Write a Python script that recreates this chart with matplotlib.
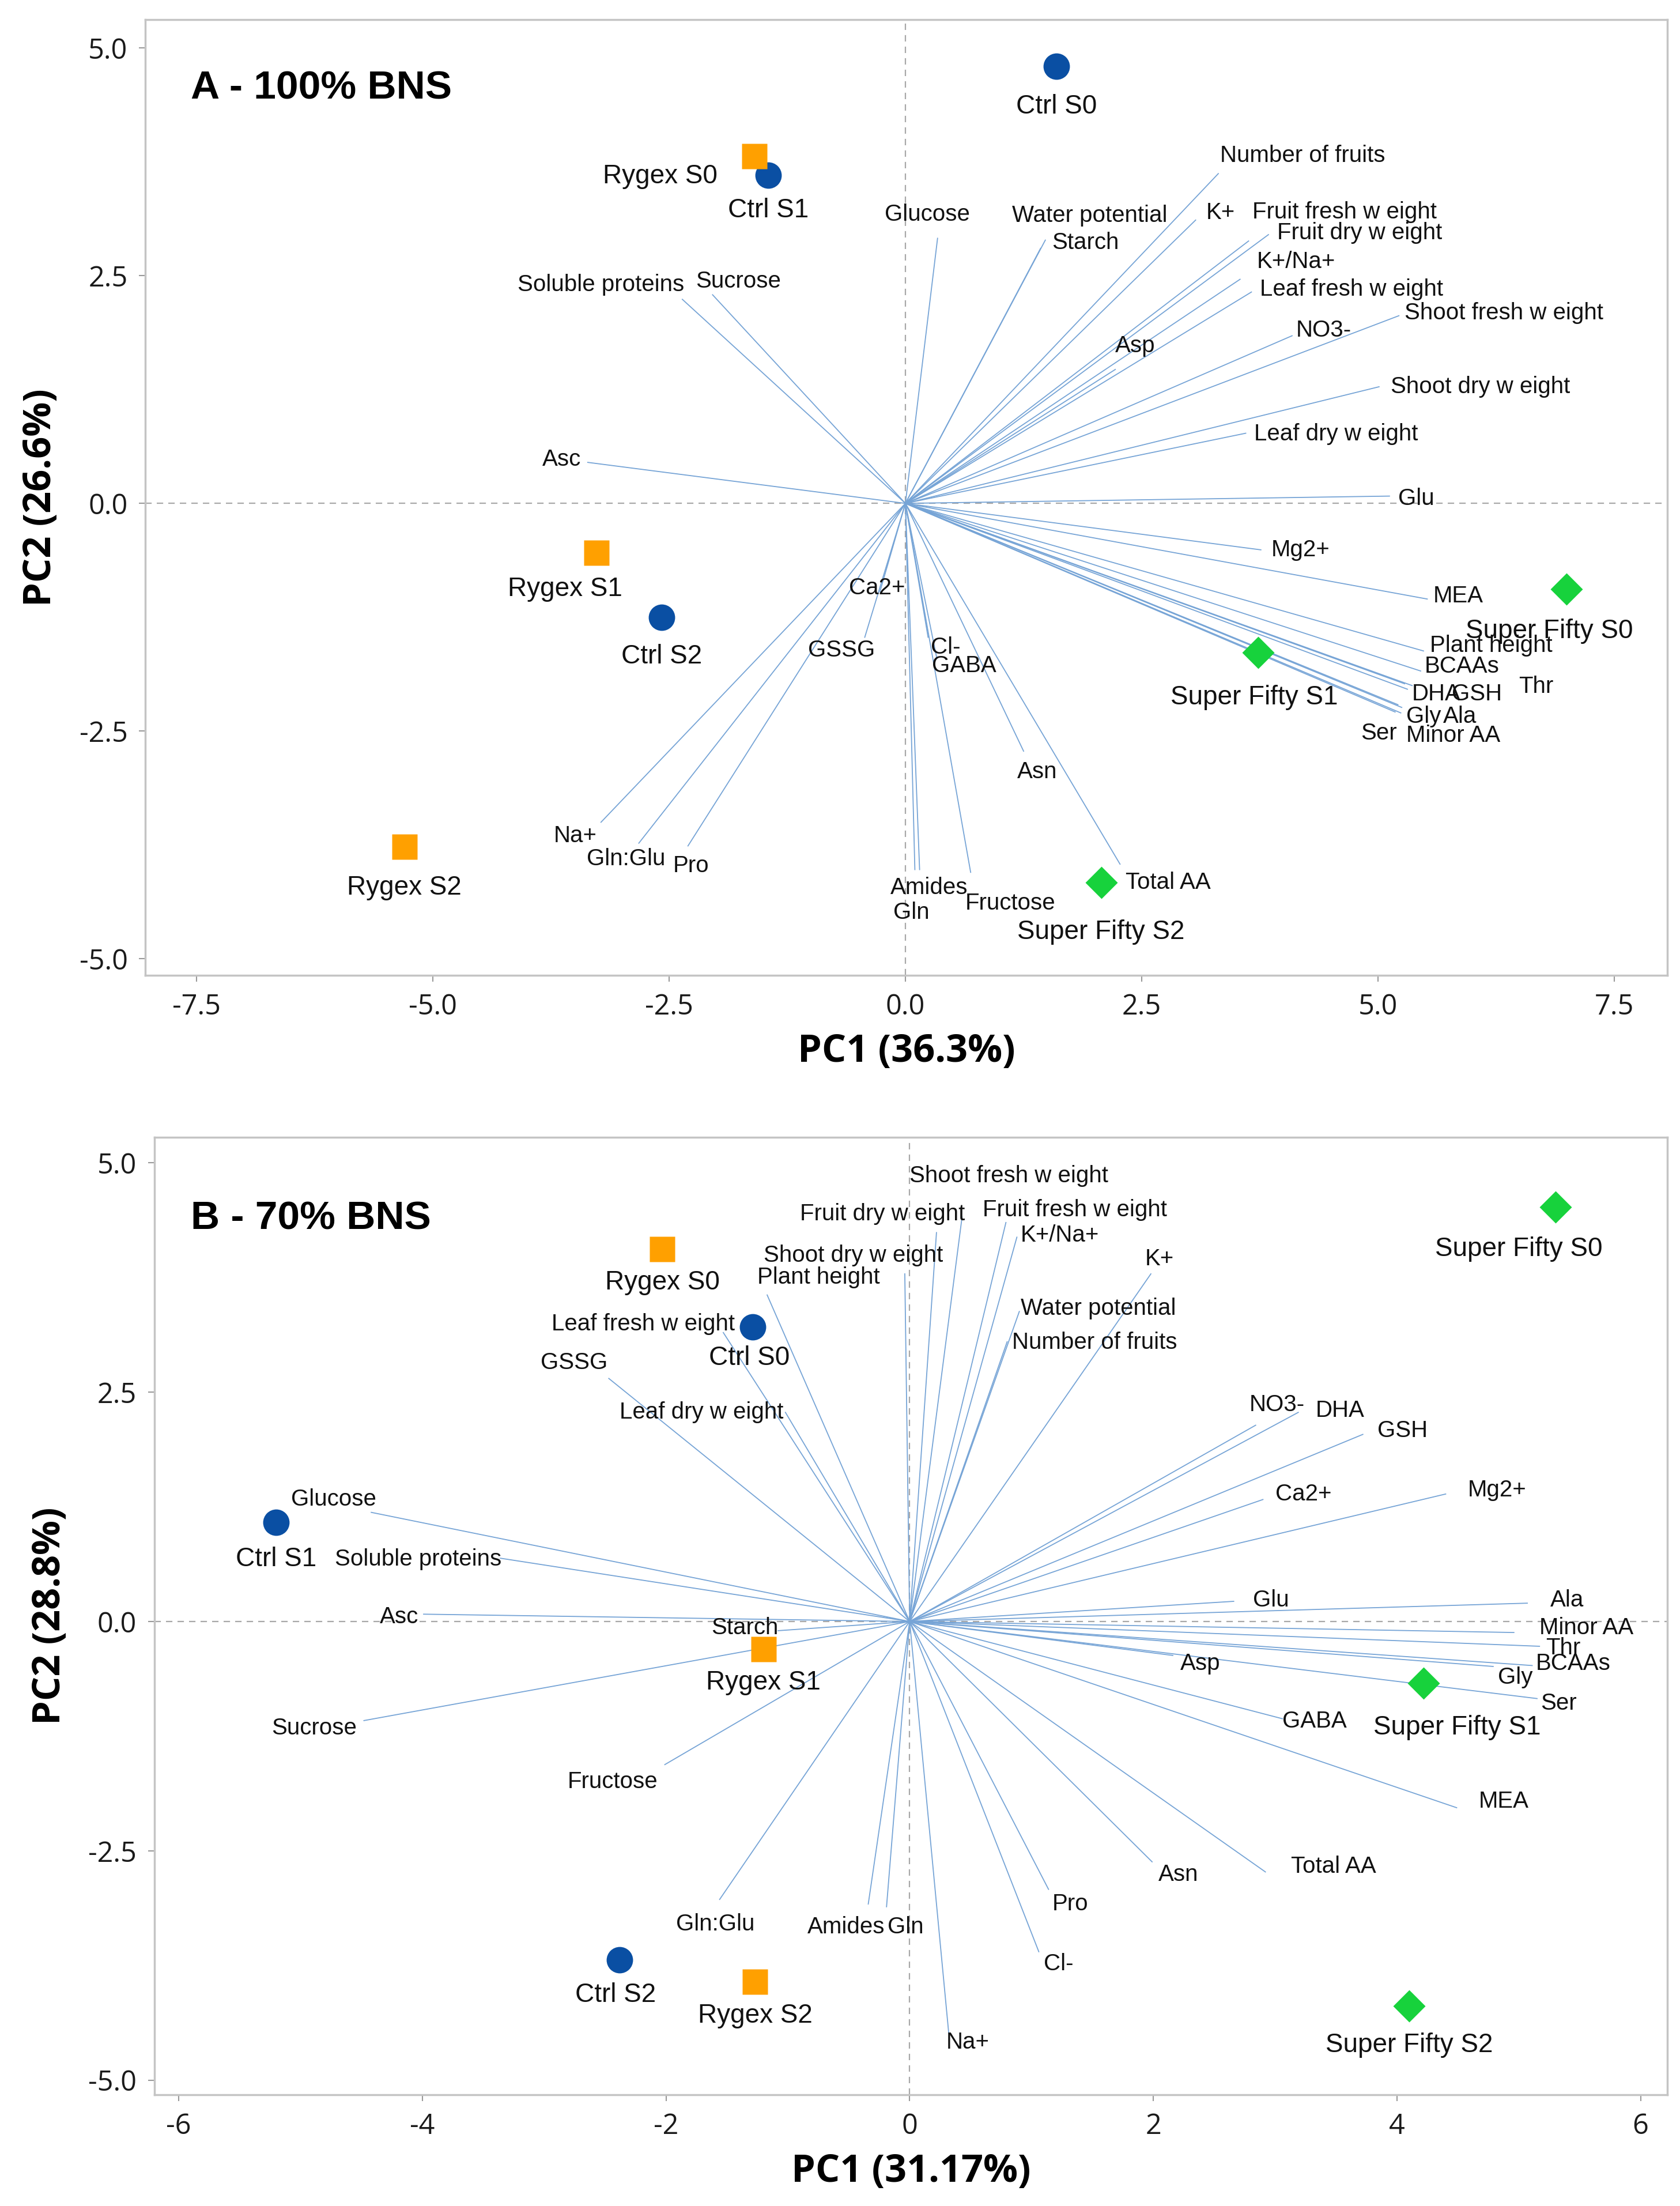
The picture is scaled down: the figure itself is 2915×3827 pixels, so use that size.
import matplotlib
matplotlib.use("Agg")
import matplotlib.pyplot as plt

plt.rcParams['font.family'] = ['Liberation Sans', 'DejaVu Sans']

# ---------------- panel A : 100% BNS ----------------
a_samples = ["Ctrl S0", "Ctrl S1", "Ctrl S2",
             "Rygex S0", "Rygex S1", "Rygex S2",
             "Super Fifty S0", "Super Fifty S1", "Super Fifty S2"]
a_pc1 = [1.60, -1.45, -2.58, -1.60, -3.27, -5.30, 6.99, 3.73, 2.07]
a_pc2 = [4.80, 3.60, -1.25, 3.81, -0.54, -3.77, -0.94, -1.64, -4.16]

a_vars = ["Number of fruits", "Glucose", "Water potential", "Starch", "K+",
          "Fruit fresh w eight", "Fruit dry w eight", "K+/Na+", "Leaf fresh w eight",
          "Shoot fresh w eight", "NO3-", "Asp", "Shoot dry w eight", "Leaf dry w eight",
          "Glu", "Mg2+", "MEA", "Plant height", "BCAAs", "Thr", "DHA", "GSH",
          "Gly", "Ala", "Ser", "Minor AA", "Asn", "Total AA", "Amides", "Gln",
          "Fructose", "Cl-", "GABA", "Ca2+", "GSSG", "Na+", "Gln:Glu", "Pro",
          "Asc", "Soluble proteins", "Sucrose"]
a_load1 = [3.31, 0.34, 1.43, 1.48, 3.07, 3.63, 3.84, 3.54, 3.66, 5.22, 4.09, 2.22,
           5.01, 3.60, 5.12, 3.76, 5.52, 5.48, 5.45, 5.36, 5.28, 5.31, 5.21, 5.25,
           5.18, 5.24, 1.25, 2.27, 0.15, 0.10, 0.69, 0.24, 0.33, -0.27, -0.43,
           -3.22, -2.82, -2.30, -3.36, -2.36, -2.04]
a_load2 = [3.62, 2.91, 2.80, 2.89, 3.11, 2.88, 2.95, 2.46, 2.32, 2.06, 1.84, 1.47,
           1.28, 0.77, 0.08, -0.51, -1.05, -1.62, -1.84, -2.00, -1.98, -2.04, -2.21,
           -2.24, -2.29, -2.30, -2.72, -3.96, -4.02, -4.02, -4.05, -1.47, -1.69,
           -0.97, -1.47, -3.50, -3.73, -3.76, 0.45, 2.24, 2.29]

# where the variable names sit (left edge, middle), data units
a_lab_x = [3.33, -0.22, 1.13, 1.55, 3.18, 3.67, 3.93, 3.72, 3.75, 5.28, 4.13, 2.22,
           5.13, 3.69, 5.21, 3.87, 5.58, 5.55, 5.49, 6.49, 5.36, 5.78, 5.30, 5.69,
           4.82, 5.30, 1.18, 2.33, -0.16, -0.13, 0.63, 0.27, 0.28, -0.60, -1.03,
           -3.72, -3.37, -2.46, -3.84, -4.10, -2.22]
a_lab_y = [3.82, 3.17, 3.16, 2.86, 3.19, 3.20, 2.97, 2.65, 2.35, 2.09, 1.90, 1.73,
           1.28, 0.76, 0.05, -0.51, -1.02, -1.56, -1.79, -2.01, -2.09, -2.09, -2.34,
           -2.34, -2.52, -2.55, -2.95, -4.16, -4.22, -4.49, -4.39, -1.58, -1.78,
           -0.93, -1.61, -3.65, -3.90, -3.98, 0.48, 2.40, 2.44]
# sample label offsets in points (dx, dy)
a_off = [(0, -51), (0, -44), (0, -49), (-46, -25), (-39, -46), (0, -51),
         (-21, -53), (-5, -56), (0, -62)]
a_ha = ["center", "center", "center", "right", "center", "center",
        "center", "center", "center"]

# ---------------- panel B : 70% BNS ----------------
b_samples = a_samples
b_pc1 = [-1.29, -5.20, -2.38, -2.03, -1.20, -1.27, 5.30, 4.22, 4.10]
b_pc2 = [3.21, 1.08, -3.69, 4.06, -0.30, -3.93, 4.52, -0.67, -4.19]

b_vars = ["Shoot fresh w eight", "Fruit dry w eight", "Fruit fresh w eight", "K+/Na+",
          "K+", "Shoot dry w eight", "Plant height", "Water potential",
          "Number of fruits", "Leaf fresh w eight", "GSSG", "Leaf dry w eight",
          "NO3-", "DHA", "GSH", "Ca2+", "Mg2+", "Glucose", "Soluble proteins",
          "Asc", "Glu", "Ala", "Minor AA", "Thr", "BCAAs", "Asp", "Gly", "Ser",
          "Starch", "GABA", "Sucrose", "Fructose", "MEA", "Total AA", "Asn",
          "Pro", "Gln:Glu", "Amides", "Gln", "Cl-", "Na+"]
b_load1 = [0.43, 0.22, 0.79, 0.88, 1.98, -0.04, -1.17, 0.90, 0.80, -1.53, -2.47,
           -1.02, 2.84, 3.19, 3.72, 2.90, 4.40, -4.42, -3.36, -3.99, 2.66, 5.07,
           4.96, 5.17, 5.11, 2.16, 4.79, 5.15, -1.08, 3.06, -4.48, -2.01, 4.49,
           2.92, 1.99, 1.14, -1.56, -0.34, -0.19, 1.06, 0.32]
b_load2 = [4.41, 4.24, 4.35, 4.19, 3.79, 3.79, 3.56, 3.38, 3.05, 3.15, 2.65, 2.28,
           2.14, 2.28, 2.04, 1.33, 1.39, 1.19, 0.69, 0.08, 0.22, 0.20, -0.12,
           -0.27, -0.48, -0.37, -0.49, -0.84, -0.10, -1.06, -1.08, -1.56, -2.03,
           -2.73, -2.62, -2.92, -3.03, -3.08, -3.11, -3.60, -4.48]

b_lab_x = [0.00, -0.90, 0.60, 0.91, 1.93, -1.20, -1.25, 0.91, 0.84, -2.94, -3.03,
           -2.38, 2.79, 3.33, 3.84, 3.00, 4.58, -5.08, -4.72, -4.35, 2.82, 5.26,
           5.17, 5.22, 5.14, 2.22, 4.83, 5.18, -1.63, 3.06, -5.24, -2.81, 4.67,
           3.13, 2.04, 1.17, -1.92, -0.84, -0.18, 1.10, 0.30]
b_lab_y = [4.86, 4.44, 4.49, 4.21, 3.95, 3.99, 3.75, 3.41, 3.04, 3.24, 2.82, 2.28,
           2.36, 2.30, 2.08, 1.39, 1.43, 1.33, 0.68, 0.05, 0.23, 0.23, -0.07,
           -0.29, -0.46, -0.46, -0.61, -0.89, -0.07, -1.09, -1.16, -1.75, -1.96,
           -2.67, -2.76, -3.08, -3.30, -3.33, -3.33, -3.73, -4.59]
b_off = [(-4, -39), (0, -46), (-5, -44), (0, -42), (0, -42), (0, -42),
         (-46, -53), (42, -56), (0, -49)]
b_ha = ["center"] * 9

group_style = {
    "Ctrl": dict(marker="o", color="#0a4fa3", ms=33),
    "Rygex": dict(marker="s", color="#ffa000", ms=31),
    "Super Fifty": dict(marker="D", color="#17d23c", ms=29),
}

LINE_C = "#76a4d6"
GRID_C = "#a8a8a8"


def draw_panel(ax, samples, pc1, pc2, offs, has, names, l1, l2, lx, ly,
               title, xlab, ylab, xlim, ylim, xticks, yticks, xfmt, tx, ty):
    ax.axhline(0, color=GRID_C, lw=1.6, ls=(0, (5, 4)), zorder=0)
    ax.axvline(0, color=GRID_C, lw=1.6, ls=(0, (5, 4)), zorder=0)

    for n, x, y, tx_, ty_ in zip(names, l1, l2, lx, ly):
        ax.plot([0, x], [0, y], color=LINE_C, lw=1.3, zorder=1)
        ax.text(tx_, ty_, n, fontsize=29, ha="left", va="center",
                color="#111111", zorder=4)

    for s, x, y, (dx, dy), ha in zip(samples, pc1, pc2, offs, has):
        grp = s.rsplit(" ", 1)[0]
        st = group_style[grp]
        ax.plot(x, y, ls="none", marker=st["marker"], color=st["color"],
                ms=st["ms"], mec="none", zorder=3)
        ax.annotate(s, (x, y), xytext=(dx, dy), textcoords="offset points",
                    ha=ha, va="center", fontsize=33, color="#111111", zorder=5)

    ax.text(tx, ty, title, transform=ax.transAxes, fontsize=50,
            fontweight="bold", ha="left", va="center")

    ax.set_xlim(*xlim)
    ax.set_ylim(*ylim)
    ax.set_xticks(xticks)
    ax.set_yticks(yticks)
    ax.set_xticklabels([xfmt.format(v) for v in xticks])
    ax.set_yticklabels(["{:.1f}".format(v) for v in yticks])
    for lab in ax.get_xticklabels() + ax.get_yticklabels():
        lab.set_family(["Open Sans", "DejaVu Sans"])
        lab.set_fontsize(35)
        lab.set_color("#1a1a1a")
    ax.tick_params(length=8, width=1.5, color="#999999", pad=14)
    ax.set_xlabel(xlab, fontsize=48, fontweight="bold",
                  family=["Open Sans", "DejaVu Sans"], labelpad=14)
    ax.set_ylabel(ylab, fontsize=48, fontweight="bold",
                  family=["Open Sans", "DejaVu Sans"], labelpad=24)
    for sp in ax.spines.values():
        sp.set_color("#c4c4c4")
        sp.set_linewidth(2.5)


fig = plt.figure(figsize=(29.15, 38.27), dpi=100)
ax_a = fig.add_axes([0.0865, 0.5579, 0.9060, 0.4332])
ax_b = fig.add_axes([0.0919, 0.0504, 0.9006, 0.4341])

draw_panel(ax_a, a_samples, a_pc1, a_pc2, a_off, a_ha,
           a_vars, a_load1, a_load2, a_lab_x, a_lab_y,
           "A - 100% BNS", "PC1 (36.3%)", "PC2 (26.6%)",
           (-8.04, 8.06), (-5.18, 5.31),
           [-7.5, -5.0, -2.5, 0.0, 2.5, 5.0, 7.5], [-5.0, -2.5, 0.0, 2.5, 5.0],
           "{:.1f}", 0.030, 0.928)

draw_panel(ax_b, b_samples, b_pc1, b_pc2, b_off, b_ha,
           b_vars, b_load1, b_load2, b_lab_x, b_lab_y,
           "B - 70% BNS", "PC1 (31.17%)", "PC2 (28.8%)",
           (-6.2, 6.22), (-5.16, 5.28),
           [-6, -4, -2, 0, 2, 4, 6], [-5.0, -2.5, 0.0, 2.5, 5.0],
           "{:.0f}", 0.024, 0.915)

fig.savefig("out.png", dpi=100)
